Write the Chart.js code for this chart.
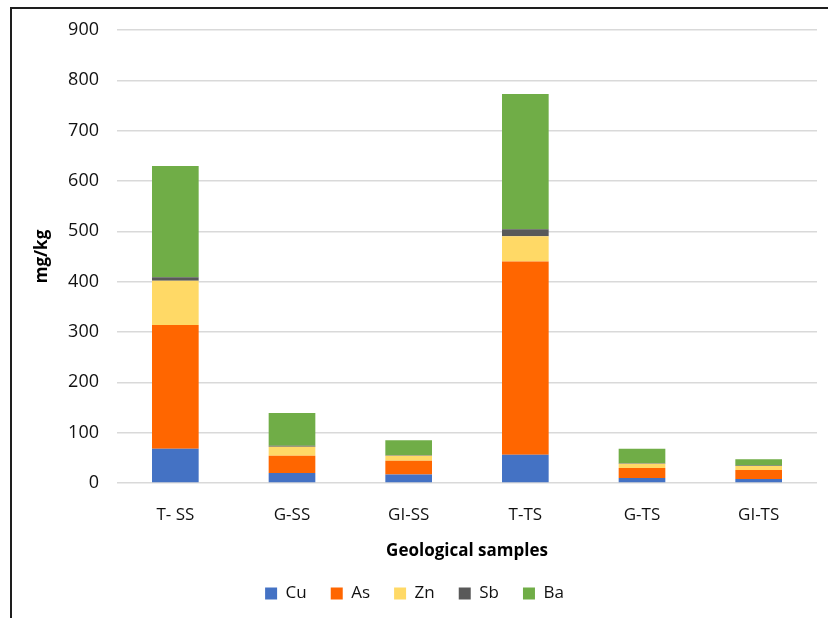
<!DOCTYPE html>
<html>
<head>
<meta charset="utf-8">
<script src="https://cdn.jsdelivr.net/npm/chart.js@4.4.1/dist/chart.umd.min.js"></script>
<style>
  html, body { margin: 0; padding: 0; background: #fff; }
  #wrap { position: relative; width: 828px; height: 618px; }
  #frame { position: absolute; left: 10px; top: 7px; right: 0; bottom: 0;
           border-left: 2px solid #1e1e1e; border-top: 2px solid #1e1e1e; pointer-events: none; }
</style>
</head>
<body>
<div id="wrap">
  <canvas id="chart" width="828" height="618"></canvas>
  <div id="frame"></div>
</div>
<script>
// categories and element concentrations (mg/kg)
const samples = ['T- SS', 'G-SS', 'GI-SS', 'T-TS', 'G-TS', 'GI-TS'];
const cu = [68, 20, 17, 56, 10, 8];
const as = [246, 34, 27, 384, 20, 18];
const zn = [88, 18, 10, 50, 8, 8];
const sb = [7, 2, 1, 14, 1, 1];
const ba = [221, 65, 30, 269, 29, 12];

const yTicks = [0, 100, 200, 300, 400, 500, 600, 700, 800, 900];

const font = "'Open Sans', 'Liberation Sans', sans-serif";

const ctx = document.getElementById('chart').getContext('2d');
new Chart(ctx, {
    type: 'bar',
    data: {
        labels: samples,
        datasets: [
            { label: 'Cu', data: cu, backgroundColor: '#4472C4' },
            { label: 'As', data: as, backgroundColor: '#FF6600' },
            { label: 'Zn', data: zn, backgroundColor: '#FFD966' },
            { label: 'Sb', data: sb, backgroundColor: '#595959' },
            { label: 'Ba', data: ba, backgroundColor: '#70AD47' }
        ]
    },
    options: {
        responsive: false,
        animation: false,
        devicePixelRatio: 1,
        datasets: { bar: { categoryPercentage: 1, barPercentage: 0.4 } },
        layout: { padding: { left: 12, right: 11, top: 30, bottom: 6 } },
        plugins: {
            tooltip: { enabled: false },
            legend: {
                position: 'bottom',
                labels: {
                    boxWidth: 12, boxHeight: 12, padding: 24,
                    color: '#111',
                    font: { family: font, size: 17 }
                }
            }
        },
        scales: {
            x: {
                stacked: true,
                grid: { display: false },
                border: { display: false },
                ticks: { padding: 14, color: '#111', font: { family: font, size: 17 } },
                title: {
                    display: true, text: 'Geological samples', color: '#000',
                    padding: { top: 0, bottom: 0 },
                    font: { family: font, size: 17, weight: 'bold' }
                },
                afterFit: s => { s.height = 78; }
            },
            y: {
                stacked: true,
                min: 0, max: 900,
                afterBuildTicks: s => { s.ticks = yTicks.map(v => ({ value: v })); },
                grid: { color: '#d9d9d9', lineWidth: 1.5, drawTicks: false },
                border: { display: false },
                ticks: { padding: 18, color: '#111', font: { family: font, size: 18 } },
                title: {
                    display: true, text: 'mg/kg', color: '#000',
                    padding: { top: 20, bottom: 0 },
                    font: { family: font, size: 17, weight: 'bold' }
                },
                afterFit: s => { s.width = 105; }
            }
        }
    }
});
</script>
</body>
</html>
